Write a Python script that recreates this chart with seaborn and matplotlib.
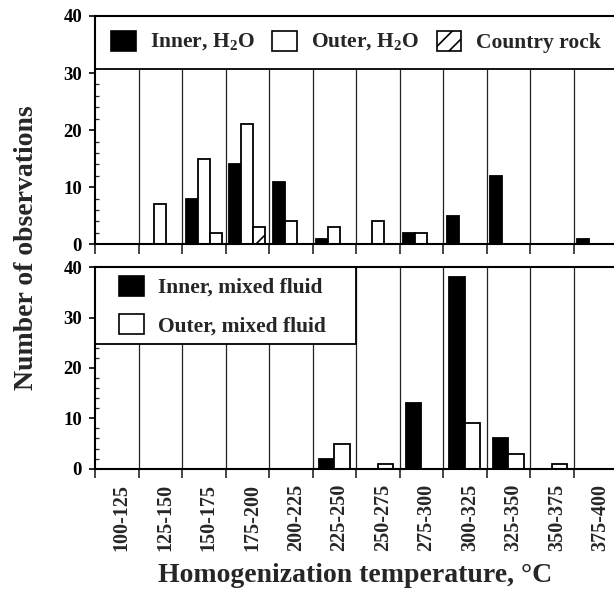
import matplotlib
matplotlib.use("Agg")
import matplotlib.pyplot as plt
import matplotlib.transforms as mtransforms
from matplotlib.patches import Patch, Rectangle
import seaborn as sns
import pandas as pd
import numpy as np

bins = ["100-125", "125-150", "150-175", "175-200", "200-225", "225-250",
        "250-275", "275-300", "300-325", "325-350", "350-375", "375-400"]

# Top panel (H2O inclusions)
inner_h2o   = [0, 0, 8, 14, 11, 1, 0, 2, 5, 12, 0, 1]
outer_h2o   = [0, 7, 15, 21, 4, 3, 4, 2, 0, 0, 0, 0]
country_rock = [0, 0, 2, 3, 0, 0, 0, 0, 0, 0, 0, 0]

# Bottom panel (mixed fluid inclusions)
inner_mixed = [0, 0, 0, 0, 0, 2, 0, 13, 38, 6, 0, 0]
outer_mixed = [0, 0, 0, 0, 0, 5, 1, 0, 9, 3, 1, 0]

top_labels = ["Inner, H$_\\mathregular{2}$O", "Outer, H$_\\mathregular{2}$O", "Country rock"]
bot_labels = ["Inner, mixed fluid", "Outer, mixed fluid"]

sns.set_theme(style="white")
plt.rcParams["font.family"] = ["Liberation Serif", "DejaVu Serif"]
plt.rcParams["font.weight"] = "bold"
plt.rcParams["mathtext.fontset"] = "custom"
plt.rcParams["mathtext.rm"] = "Liberation Serif:bold"
plt.rcParams["hatch.linewidth"] = 1.2
plt.rcParams["hatch.color"] = "black"

df_top = pd.DataFrame({
    "bin": bins * 3,
    "count": inner_h2o + outer_h2o + country_rock,
    "type": [top_labels[0]] * 12 + [top_labels[1]] * 12 + [top_labels[2]] * 12,
})
df_bot = pd.DataFrame({
    "bin": bins * 2,
    "count": inner_mixed + outer_mixed,
    "type": [bot_labels[0]] * 12 + [bot_labels[1]] * 12,
})

W, H = 614, 591
fig = plt.figure(figsize=(W / 100, H / 100), dpi=100)
ax1 = fig.add_axes([95 / W, (H - 244.3) / H, 522 / W, (244.3 - 16) / H])
ax2 = fig.add_axes([95 / W, (H - 468.7) / H, 522 / W, (468.7 - 267.3) / H])

sns.barplot(data=df_top, x="bin", y="count", hue="type", hue_order=top_labels,
            order=bins, palette=["black", "white", "white"], saturation=1,
            width=0.83, gap=0, edgecolor="black", linewidth=1.3,
            errorbar=None, legend=False, ax=ax1, zorder=4)
for p in ax1.containers[2].patches:
    p.set_hatch("/")

sns.barplot(data=df_bot, x="bin", y="count", hue="type", hue_order=bot_labels,
            order=bins, palette=["black", "white"], saturation=1,
            width=0.71, gap=0, edgecolor="black", linewidth=1.3,
            errorbar=None, legend=False, ax=ax2, zorder=4)

boundaries = np.arange(-0.5, 12.0, 1.0)
top_box = 30.8
bot_box = 24.7

for ax in (ax1, ax2):
    ax.set_xlim(-0.5, 11.5)
    ax.set_ylim(0, 40)
    ax.set_xlabel("")
    ax.set_ylabel("")
    for s in ("left", "top", "bottom"):
        ax.spines[s].set_visible(True)
        ax.spines[s].set_linewidth(1.5)
        ax.spines[s].set_color("black")
        ax.spines[s].set_zorder(6)
    ax.spines["right"].set_visible(False)
    ax.set_yticks([0, 10, 20, 30, 40])
    ax.set_yticks(np.arange(0, 41, 2), minor=True)
    ax.tick_params(axis="y", which="major", direction="out", length=4.3, width=1.2,
                   labelsize=13.5, pad=5, colors="black", left=True)
    ax.tick_params(axis="y", which="minor", direction="in", length=3, width=0.9,
                   left=True)
    for t in ax.get_yticklabels():
        t.set_fontweight("bold")
    ax.set_xticks(boundaries)
    ax.set_xticklabels([""] * len(boundaries))

# top panel ticks
ax1.tick_params(axis="x", which="major", direction="out", length=7.2, width=1.2,
                bottom=True)

# bottom panel ticks: boundaries as major ticks, labels at bin centres
ax2.tick_params(axis="x", which="major", direction="out", length=6.5, width=1.2,
                bottom=True)
ax2.set_xticks(np.arange(12), minor=True)
ax2.set_xticklabels(bins, minor=True, rotation=90, fontsize=14.5, fontweight="bold")
ax2.tick_params(axis="x", which="minor", length=0, pad=11)
offset = mtransforms.ScaledTranslation(5 / 100, 0, fig.dpi_scale_trans)
for t in ax2.get_xticklabels(minor=True):
    t.set_transform(t.get_transform() + offset)

# vertical grid lines
ax1.vlines(boundaries[1:], 0, top_box, color="#222222", lw=0.9, zorder=1)
for b in boundaries[1:]:
    ax2.vlines(b, 0, bot_box if b < 5.4 else 40, color="#222222", lw=0.9, zorder=1)

# legend boxes
ax1.add_patch(Rectangle((-0.5, top_box), 12.5, 40 - top_box, facecolor="white",
                        edgecolor="black", lw=1.3, zorder=3, clip_on=False))
ax2.add_patch(Rectangle((-0.5, bot_box), 6, 40 - bot_box, facecolor="white",
                        edgecolor="black", lw=1.3, zorder=3))

h_top = [Patch(facecolor="black", edgecolor="black", lw=1.2),
         Patch(facecolor="white", edgecolor="black", lw=1.2),
         Patch(facecolor="white", edgecolor="black", lw=1.2, hatch="//")]
leg1 = ax1.legend(h_top, top_labels, ncol=3, loc="center left",
                  bbox_to_anchor=((100 - 95) / 522, (244.3 - 42) / 228.3),
                  frameon=False, borderpad=0, handlelength=1.15, handleheight=1.05,
                  handletextpad=0.67, columnspacing=0.8,
                  prop={"family": "Liberation Serif", "weight": "bold", "size": 15.5})
leg1.set_zorder(7)

h_bot = [Patch(facecolor="black", edgecolor="black", lw=1.2),
         Patch(facecolor="white", edgecolor="black", lw=1.2)]
leg2 = ax2.legend(h_bot, bot_labels, ncol=1, loc="center left",
                  bbox_to_anchor=((108 - 95) / 522, (468.7 - 306) / 201.4),
                  frameon=False, borderpad=0, handlelength=1.15, handleheight=1.05,
                  handletextpad=0.68, labelspacing=0.75,
                  prop={"family": "Liberation Serif", "weight": "bold", "size": 15.5})
leg2.set_zorder(7)

fig.text(355 / W, 1 - 575 / H, "Homogenization temperature, \u00b0C", ha="center",
         va="center", fontsize=20, fontweight="bold")
fig.text(27 / W, 1 - 248 / H, "Number of observations", ha="center", va="center",
         rotation=90, fontsize=20, fontweight="bold")

fig.savefig("out.png", dpi=100)
